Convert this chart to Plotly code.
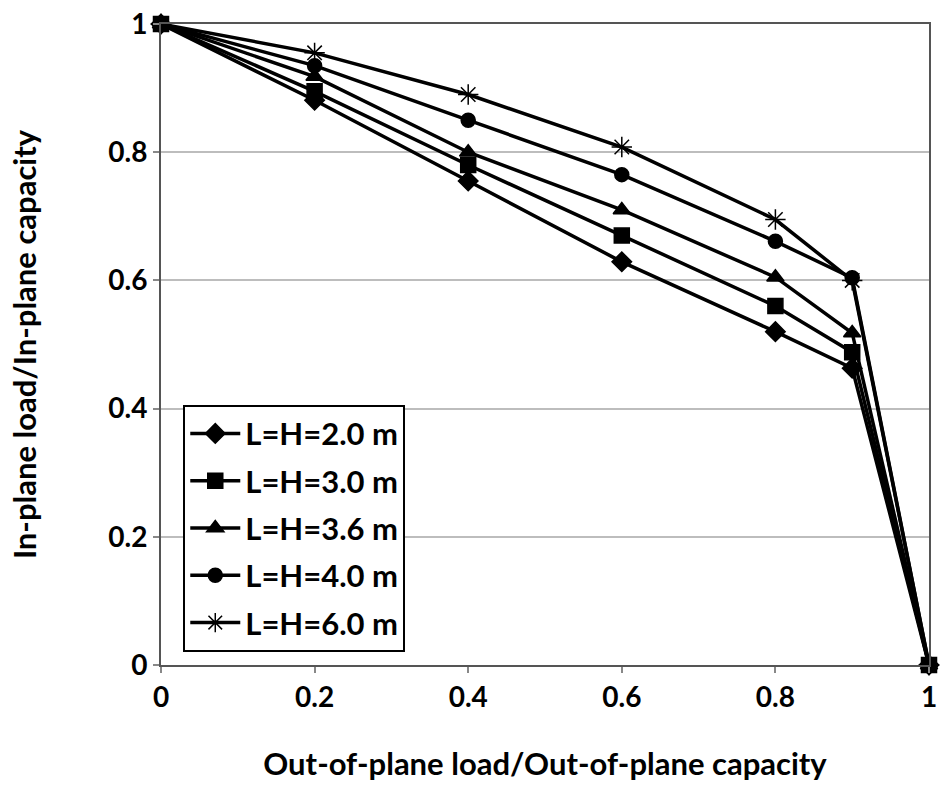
import plotly.graph_objects as go

x_vals = [0, 0.2, 0.4, 0.6, 0.8, 0.9, 1.0]
series_names = ["L=H=2.0 m", "L=H=3.0 m", "L=H=3.6 m", "L=H=4.0 m", "L=H=6.0 m"]
y_20 = [1.0, 0.881, 0.755, 0.629, 0.520, 0.463, 0.0]
y_30 = [1.0, 0.895, 0.780, 0.670, 0.560, 0.488, 0.0]
y_36 = [1.0, 0.918, 0.800, 0.710, 0.605, 0.518, 0.0]
y_40 = [1.0, 0.935, 0.850, 0.765, 0.661, 0.604, 0.0]
y_60 = [1.0, 0.955, 0.890, 0.808, 0.695, 0.600, 0.0]
series_values = [y_20, y_30, y_36, y_40, y_60]
symbols = ["diamond", "square", "triangle-up", "circle", "asterisk-open"]
sizes = [15, 15, 15, 14, 17]
x_ticks = [0, 0.2, 0.4, 0.6, 0.8, 1]
x_tick_labels = ["0", "0.2", "0.4", "0.6", "0.8", "1"]
y_ticks = [0, 0.2, 0.4, 0.6, 0.8, 1]
y_tick_labels = ["0", "0.2", "0.4", "0.6", "0.8", "1"]

FONT = "Lato"

fig = go.Figure()
for name, ys, sym, sz in zip(series_names, series_values, symbols, sizes):
    fig.add_trace(go.Scatter(
        x=x_vals, y=ys, name=name, mode="lines+markers",
        line=dict(color="black", width=3.5),
        marker=dict(symbol=sym, size=sz, color="black",
                    line=dict(color="black", width=1.5)),
        legendgroup=name,
        cliponaxis=False,
    ))

axis_common = dict(
    showline=True, linecolor="#555555", linewidth=2, mirror=True,
    ticks="outside", ticklen=6, tickcolor="#888888", tickwidth=1.5,
    tickfont=dict(family=FONT, size=28, color="black", weight="bold"),
    zeroline=False, automargin=False,
)

fig.update_layout(
    width=940, height=790,
    margin=dict(l=161, r=11, t=24, b=125),
    paper_bgcolor="white", plot_bgcolor="white",
    showlegend=True,
    legend=dict(
        x=0.029, y=0.406, xanchor="left", yanchor="top",
        bgcolor="white", bordercolor="black", borderwidth=2,
        font=dict(family=FONT, size=31, color="black", weight="bold"),
        tracegroupgap=4, itemwidth=50,
    ),
    xaxis=dict(
        range=[0, 1], tickvals=x_ticks, ticktext=x_tick_labels,
        showgrid=False,
        title=dict(text="Out-of-plane load/Out-of-plane capacity",
                   font=dict(family=FONT, size=31, color="black", weight="bold"),
                   standoff=42),
        **axis_common,
    ),
    yaxis=dict(
        range=[0, 1], tickvals=y_ticks, ticktext=y_tick_labels,
        showgrid=True, gridcolor="#bdbdbd", gridwidth=1.5,
        title=dict(text="In-plane load/In-plane capacity",
                   font=dict(family=FONT, size=31, color="black", weight="bold"),
                   standoff=62),
        **axis_common,
    ),
)

fig.write_html("out.html")
